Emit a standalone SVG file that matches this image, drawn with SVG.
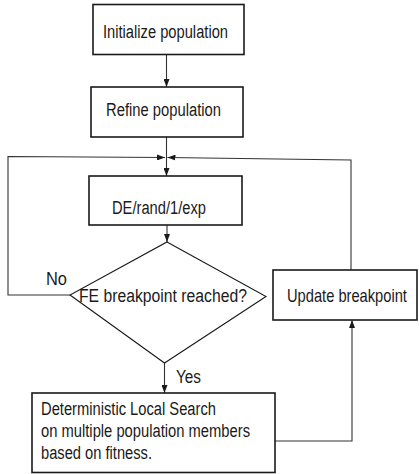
<svg xmlns="http://www.w3.org/2000/svg" width="419" height="474" viewBox="0 0 419 474">
<style>
.box{fill:#fff;stroke:#1a1a1a;stroke-width:1.6}
.t{font-family:"Liberation Sans",Arial,sans-serif;font-size:18px;fill:#1a1a1a}
.c{fill:none;stroke:#333;stroke-width:1.1}
</style>
<defs>
<marker id="ah" markerWidth="8" markerHeight="6" refX="8" refY="3" orient="auto" markerUnits="userSpaceOnUse">
<path d="M0,0 L8,3 L0,6 z" fill="#1a1a1a"/>
</marker>
</defs>
<rect width="419" height="474" fill="#fff"/>
<g id="connectors">
<line class="c" x1="166.5" y1="54" x2="166.5" y2="87" marker-end="url(#ah)"/>
<line class="c" x1="166.5" y1="137" x2="166.5" y2="176" marker-end="url(#ah)"/>
<polyline class="c" points="70,295 8,295 8,156.5 165,157.5" marker-end="url(#ah)"/>
<polyline class="c" points="351,270 351,160 167.5,157.5" marker-end="url(#ah)"/>
<line class="c" x1="167" y1="225" x2="167" y2="242" marker-end="url(#ah)"/>
<line class="c" x1="164.5" y1="363" x2="164.5" y2="393" marker-end="url(#ah)"/>
<polyline class="c" points="275,441 352,441 352,320" marker-end="url(#ah)"/>
<text class="t" x="46" y="285" textLength="21" lengthAdjust="spacingAndGlyphs">No</text>
<text class="t" x="176" y="383" textLength="25" lengthAdjust="spacingAndGlyphs">Yes</text>
</g>
<g id="init">
<rect class="box" x="93" y="4.5" width="151" height="50"/>
<text class="t" x="103" y="38" textLength="125" lengthAdjust="spacingAndGlyphs">Initialize population</text>
</g>
<g id="refine">
<rect class="box" x="91" y="87" width="152" height="50"/>
<text class="t" x="106" y="116" textLength="115" lengthAdjust="spacingAndGlyphs">Refine population</text>
</g>
<g id="de">
<rect class="box" x="89" y="176" width="153" height="49"/>
<text class="t" x="112" y="214" textLength="94" lengthAdjust="spacingAndGlyphs">DE/rand/1/exp</text>
</g>
<g id="decision">
<polygon points="167,242 266,296.5 164.5,363 70,295" fill="#fff" stroke="#1a1a1a" stroke-width="1.1"/>
<text class="t" x="79" y="302" textLength="168" lengthAdjust="spacingAndGlyphs">FE breakpoint reached?</text>
</g>
<g id="update">
<rect class="box" x="273" y="270" width="144" height="50"/>
<text class="t" transform="translate(287 302) scale(0.816 1)">Update breakpoint</text>
</g>
<g id="localsearch">
<rect class="box" x="32" y="393" width="243" height="79.5"/>
<text class="t" x="41" y="415" textLength="175" lengthAdjust="spacingAndGlyphs">Deterministic Local Search</text>
<text class="t" x="41" y="437" textLength="209" lengthAdjust="spacingAndGlyphs">on multiple population members</text>
<text class="t" x="41" y="459" textLength="111" lengthAdjust="spacingAndGlyphs">based on fitness.</text>
</g>
</svg>
